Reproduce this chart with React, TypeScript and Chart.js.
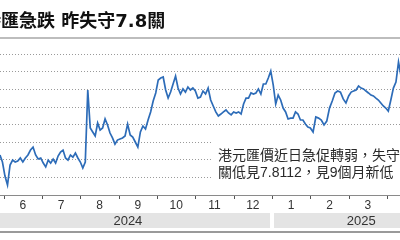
import React, { useEffect, useRef } from "react";
import { Chart, registerables } from "chart.js";

Chart.register(...registerables);

// ---- data ----
const startDate = [2024, 4, 29]; // 2024-05-29 (UTC, month 0-based)
const stepDays = 2;
const hkdRates = [
  7.8073, 7.8113, 7.8193, 7.8244, 7.813, 7.8102, 7.8113, 7.8107, 7.809, 7.8113,
  7.809, 7.8073, 7.8045, 7.8028, 7.8073, 7.8096, 7.809, 7.8119, 7.8141, 7.8102,
  7.8119, 7.8096, 7.8119, 7.8079, 7.8056, 7.8045, 7.809, 7.8102, 7.8073, 7.8085,
  7.8062, 7.809, 7.8113, 7.8147, 7.8113, 7.7703, 7.7919, 7.7942, 7.7965, 7.7891,
  7.7931, 7.7919, 7.7868, 7.7902, 7.7948, 7.7976, 7.8011, 7.7988, 7.7982, 7.7976,
  7.7965, 7.7897, 7.7959, 7.7971, 7.7999, 7.8028, 7.7942, 7.7908, 7.7925, 7.7874,
  7.7828, 7.7766, 7.772, 7.7646, 7.7635, 7.7629, 7.7703, 7.7749, 7.7715, 7.7669,
  7.7624, 7.7692, 7.7726, 7.7697, 7.7715, 7.7686, 7.7703, 7.7692, 7.7709, 7.7749,
  7.7743, 7.7709, 7.7726, 7.7692, 7.776, 7.7794, 7.7828, 7.7851, 7.784, 7.7828,
  7.7817, 7.7834, 7.7845, 7.7828, 7.7834, 7.7828, 7.784, 7.7783, 7.7749, 7.7749,
  7.772, 7.7726, 7.772, 7.7697, 7.7726, 7.7669, 7.7669, 7.7635, 7.7595, 7.7675,
  7.7783, 7.7732, 7.776, 7.7806, 7.7828, 7.7868, 7.7863, 7.7863, 7.7828, 7.784,
  7.7874, 7.7874, 7.7897, 7.7914, 7.7919, 7.7942, 7.7857, 7.7863, 7.7874, 7.7902,
  7.788, 7.7806, 7.7766, 7.772, 7.7709, 7.7715, 7.7754, 7.7777, 7.7737, 7.7715,
  7.7709, 7.7703, 7.768, 7.7692, 7.7697, 7.7709, 7.772, 7.7732, 7.7737, 7.7749,
  7.776, 7.7777, 7.7794, 7.7806, 7.7823, 7.776, 7.7692, 7.7658, 7.7544, 7.7624,
];
const monthLabels = ["6", "7", "8", "9", "10", "11", "12", "1", "2", "3", "4"];
const monthLabelIndex = [5, 6, 7, 8, 9, 10, 11, 12, 13, 14, 15]; // months since Jan 2024
const yearLabels = ["2024", "2025"];
const yearStartIndex = [0, 12];
const gridValues = [7.75, 7.76, 7.77, 7.78, 7.79, 7.8, 7.81, 7.82];
const titleText = "港匯急跌 昨失守7.8關";
const noteLines = ["港元匯價近日急促轉弱，失守7.8", "關低見7.8112，見9個月新低"];

// ---- helpers ----
function monthIndexOf(dayOffset: number): number {
  const d = new Date(Date.UTC(startDate[0], startDate[1], startDate[2] + dayOffset));
  const y = d.getUTCFullYear();
  const m = d.getUTCMonth();
  const day = d.getUTCDate();
  const dim = new Date(Date.UTC(y, m + 1, 0)).getUTCDate();
  return (y - 2024) * 12 + m + (day - 1) / dim;
}

const points = hkdRates.map((v, i) => ({ x: monthIndexOf(i * stepDays), y: v }));

const X_MIN = 4.904;
const X_MAX = 15.339;
const Y_MIN = 7.74186;
const Y_MAX = 7.83007;

const decorPlugin = {
  id: "decor",
  beforeDatasetsDraw(chart: any) {
    const ctx = chart.ctx;
    ctx.save();
    ctx.fillStyle = "#ffffff";
    ctx.fillRect(212, 134, 200, 59);
    ctx.restore();
  },
  afterDraw(chart: any) {
    const ctx = chart.ctx;
    const xs = chart.scales.x;
    const W = chart.width;
    ctx.save();
    // title rule
    ctx.fillStyle = "#bdbdbd";
    ctx.fillRect(0, 37, W, 2);
    // axis line
    const axisY = chart.chartArea.bottom;
    ctx.fillStyle = "#8a8a8a";
    ctx.fillRect(0, axisY, W, 1);
    // ticks at month boundaries
    ctx.fillStyle = "#555";
    for (let k = 0; k < monthLabelIndex.length; k++) {
      const px = Math.round(xs.getPixelForValue(monthLabelIndex[k]));
      ctx.fillRect(px, axisY + 1, 1, 3);
    }
    // month labels
    ctx.fillStyle = "#333";
    ctx.font = '12px "Liberation Sans", Arial, sans-serif';
    ctx.textAlign = "center";
    ctx.textBaseline = "middle";
    for (let k = 0; k < monthLabels.length; k++) {
      const px = xs.getPixelForValue(monthLabelIndex[k] + 0.5);
      ctx.fillText(monthLabels[k], px, axisY + 10.5);
    }
    // year bands
    const bandTop = 213;
    const bandH = 15;
    const yearCenters = [8.24, 14.33];
    ctx.font = '13px "Liberation Sans", Arial, sans-serif';
    for (let k = 0; k < yearLabels.length; k++) {
      const start = yearStartIndex[k];
      const end = start + 12;
      const x0 = Math.max(0, xs.getPixelForValue(start) + (k > 0 ? 2 : 0));
      const x1 = Math.min(W, xs.getPixelForValue(end) - 2);
      ctx.fillStyle = "#e4e4e4";
      ctx.fillRect(x0, bandTop, x1 - x0, bandH);
      ctx.fillStyle = "#333";
      ctx.fillText(yearLabels[k], xs.getPixelForValue(yearCenters[k]), bandTop + bandH / 2 + 1);
    }
    // bottom rule
    ctx.fillStyle = "#9a9a9a";
    ctx.fillRect(0, 231, W, 2);
    ctx.restore();
  },
};

export default function App() {
  const ref = useRef<HTMLCanvasElement>(null);
  useEffect(() => {
    if (!ref.current) return;
    const chart = new Chart(ref.current, {
      type: "line",
      data: {
        datasets: [
          {
            data: points,
            borderColor: "#2d6cb8",
            borderWidth: 1.7,
            pointRadius: 0,
            tension: 0,
            fill: false,
          },
        ],
      },
      options: {
        animation: false,
        responsive: false,
        parsing: true,
        layout: { padding: { top: 40, bottom: 45, left: 0, right: 0 } },
        plugins: { legend: { display: false }, tooltip: { enabled: false }, title: { display: false } },
        scales: {
          x: { type: "linear", min: X_MIN, max: X_MAX, display: false },
          y: {
            type: "linear",
            reverse: true,
            min: Y_MIN,
            max: Y_MAX,
            display: true,
            ticks: { display: false },
            grid: { color: "#9a9a9a", lineWidth: 1, drawTicks: false },
            border: { display: false, dash: [1, 2] },
            afterBuildTicks: (scale: any) => {
              scale.ticks = gridValues.map((v) => ({ value: v }));
            },
          },
        },
      },
      plugins: [decorPlugin],
    });
    return () => chart.destroy();
  }, []);

  return (
    <div
      style={{
        position: "fixed",
        left: 0,
        top: 0,
        width: 400,
        height: 240,
        overflow: "hidden",
        background: "#fff",
      }}
    >
      <canvas
        ref={ref}
        width={400}
        height={240}
        style={{ position: "absolute", left: 0, top: 0, width: 400, height: 240 }}
      />
      <div
        style={{
          position: "absolute",
          left: -17,
          top: 8.5,
          whiteSpace: "nowrap",
          font: 'bold 18px/24px "DejaVu Sans", "Noto Sans CJK TC", sans-serif',
          color: "#111",
        }}
      >
        {titleText}
      </div>
      <div
        style={{
          position: "absolute",
          left: 218,
          top: 147,
          whiteSpace: "nowrap",
          font: '14px/17px "Liberation Sans", "Noto Sans CJK TC", sans-serif',
          color: "#2a2a2a",
        }}
      >
        {noteLines.map((l, i) => (
          <div key={i}>{l}</div>
        ))}
      </div>
    </div>
  );
}
